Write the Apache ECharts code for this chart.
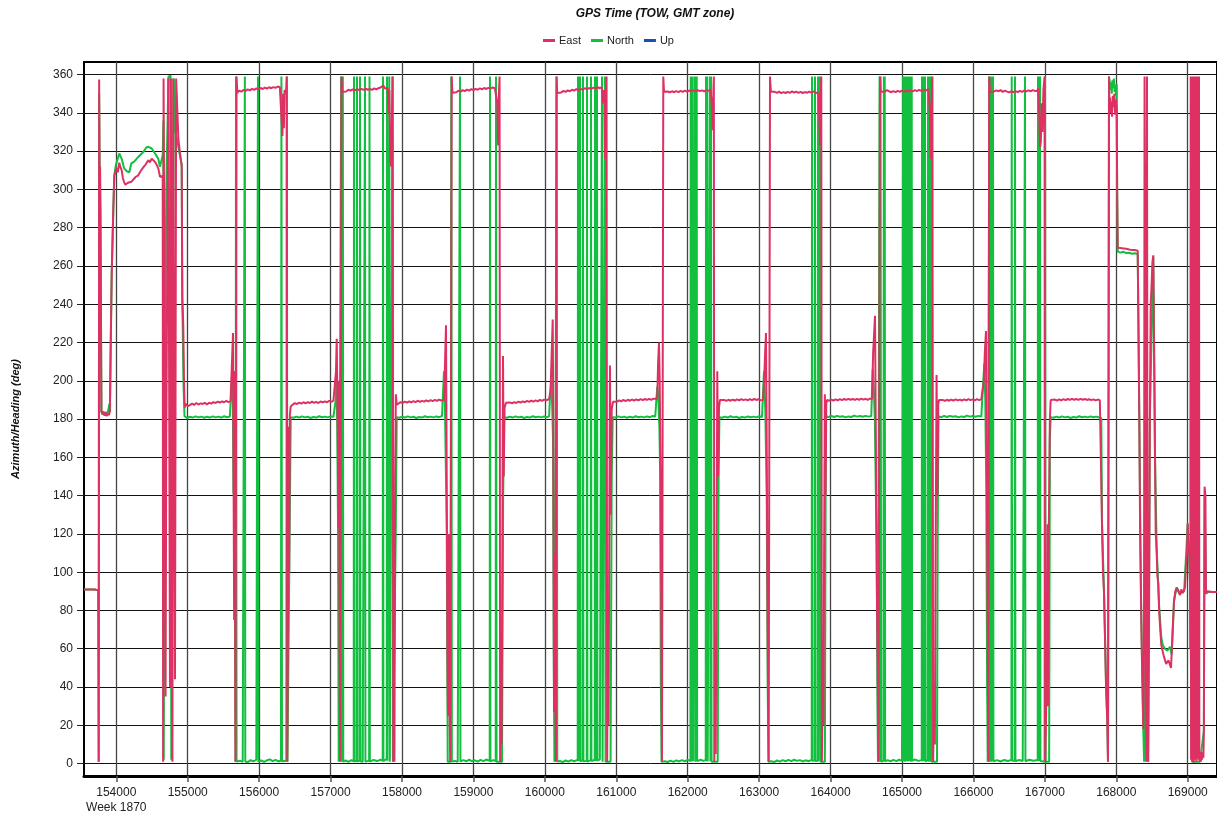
<!DOCTYPE html>
<html><head><meta charset="utf-8">
<script src="https://cdn.jsdelivr.net/npm/echarts@6/dist/echarts.min.js"></script>
<style>html,body{margin:0;padding:0;background:#fff}#c{width:1217px;height:815px}</style>
</head><body><div id="c"></div>
<script>
const xTicks = [154000,155000,156000,157000,158000,159000,160000,161000,162000,163000,164000,165000,166000,167000,168000,169000];
const yTicks = [0,20,40,60,80,100,120,140,160,180,200,220,240,260,280,300,320,340,360];
const xRange = [153548, 169410];
const yRange = [-6.5, 366.6];
const weekLabel = 'Week 1870';
const seriesNames = ['East','North','Up'];

const east = [
[153548,91],[153700,91],[153748,90.5],
[153754,1],[153760,357.5],[153767,300],[153773,312],[153780,287],[153786,230],[153792,184],
[153805,182.5],[153820,184],[153835,181.8],[153850,183.5],[153865,181.5],[153880,183.2],[153895,182],[153910,183.8],
[153922,219],[153936,256],[153958,289],[153972,307],[153990,309.5],[154005,311],[154022,309],[154042,314],[154060,311.5],[154076,310],[154092,306],[154108,304],[154126,302.5],[154146,301.7],[154164,303.5],[154182,302.5],[154210,304],[154238,305],[154270,306.5],[154308,307.4],[154340,309.5],[154378,311.5],[154410,313],[154448,315.3],[154470,314.2],[154496,316],[154526,315],[154556,313.6],[154588,311],[154612,306.6],[154636,306],
[154650,307],[154656,1],[154662,358],[154684,157],[154690,35],[154700,170],[154728,358],[154752,40],[154764,358],[154786,1],[154796,358],[154822,44],[154838,358],[154870,326],[154892,319],[154916,312],[154924,243],[154938,229],[154948,200],[154958,186],[154968,188],
[154985,187.2],[155000,186.8],[155030,187.3],[155060,188.1],[155090,187.4],[155120,188.4],[155150,187.6],[155180,188.2],[155210,187.9],[155240,188.5],[155270,187.6],[155300,188.6],[155330,188.1],[155360,188.9],[155390,188.4],[155420,189.1],[155450,188.6],[155480,189.3],[155510,188.8],[155540,189.5],[155570,188.9],[155600,189.4],[155615,189.0],
[155625,190],[155634,225],[155642,150],[155650,75],[155658,205],[155668,1],[155676,1],[155684,359],[155694,350.5],
[155720,351.6],[155750,351.1],[155780,352.0],[155810,351.5],[155840,352.3],[155870,351.8],[155900,352.6],[155930,352.0],[155960,352.8],[155990,352.3],[156020,353.0],[156050,352.5],[156080,353.2],[156110,352.7],[156140,353.4],[156170,352.9],[156200,353.5],[156230,353.1],[156260,353.8],[156290,353.4],[156310,354.2],
[156318,354],[156326,328],[156336,350],[156346,332],[156356,352],[156376,350],[156386,359],[156394,1],[156402,60],[156412,176],[156420,100],[156430,182],[156442,186.5],
[156470,187.6],[156500,188.3],[156530,187.9],[156560,188.6],[156590,188.1],[156620,188.8],[156650,188.2],[156680,188.9],[156710,188.4],[156740,189.1],[156770,188.5],[156800,189.0],[156830,188.4],[156860,189.2],[156890,188.7],[156920,189.3],[156950,188.8],[156980,189.5],[157010,189.0],[157040,189.6],
[157062,190],[157076,205],[157086,222],[157094,195],[157102,170],[157110,123],[157118,200],[157126,60],[157134,1],[157142,1],[157152,359],[157162,351],
[157190,351.8],[157220,351.2],[157250,352.1],[157280,351.6],[157310,352.3],[157340,351.7],[157370,352.5],[157400,351.9],[157430,352.6],[157460,352.0],[157490,352.7],[157520,352.1],[157550,352.6],[157580,352.0],[157610,352.8],[157640,352.3],[157670,352.9],[157700,353.3],[157720,353.8],[157740,354.3],[157760,352.8],[157785,353.4],
[157800,353],[157812,340],[157822,352],[157836,315],[157850,312],[157860,340],[157870,359],[157878,1],[157886,39],[157894,1],[157904,150],[157914,193],[157926,187.5],
[157950,188.2],[157980,188.9],[158010,188.4],[158040,189.1],[158070,188.6],[158100,189.3],[158130,188.7],[158160,189.4],[158190,188.9],[158220,189.6],[158250,189.0],[158280,189.5],[158310,189.1],[158340,189.8],[158370,189.2],[158400,189.9],[158430,189.4],[158460,190.0],[158490,189.5],[158520,190.2],[158550,189.7],[158575,190.3],
[158590,190],[158604,212],[158616,229],[158626,150],[158636,60],[158644,25],[158654,120],[158664,30],[158676,1],[158686,1],[158696,359],[158706,350.5],
[158730,351.3],[158760,350.8],[158790,351.6],[158820,351.1],[158850,351.9],[158880,351.4],[158910,352.2],[158940,351.6],[158970,352.4],[159000,351.9],[159030,352.6],[159060,352.1],[159090,352.8],[159120,352.3],[159150,353.0],[159180,352.5],[159210,353.1],[159240,352.7],[159270,353.3],[159300,352.9],[159320,353.4],
[159334,345],[159346,323],[159356,350],[159366,359],[159374,1],[159384,40],[159394,10],[159404,99],[159414,213],[159424,150],[159436,186],[159456,188.5],
[159480,188.0],[159510,188.7],[159540,188.2],[159570,188.9],[159600,188.4],[159630,189.1],[159660,188.6],[159690,189.3],[159720,188.8],[159750,189.5],[159780,189.0],[159810,189.7],[159840,189.1],[159870,189.8],[159900,189.3],[159930,190.0],[159960,189.5],[159990,190.2],[160020,189.8],[160045,190.5],
[160060,190.5],[160080,195],[160096,215],[160110,232],[160118,180],[160128,27],[160138,110],[160148,30],[160156,1],[160162,359],[160172,350.4],
[160200,351.2],[160230,350.7],[160260,351.5],[160290,351.0],[160320,351.8],[160350,351.3],[160380,352.1],[160410,351.6],[160440,352.4],[160470,351.9],[160500,352.6],[160530,352.1],[160560,352.9],[160590,352.4],[160620,353.0],[160650,352.5],[160680,353.2],[160710,352.8],[160740,353.4],[160770,352.9],[160800,353.5],
[160814,345],[160830,352],[160842,316],[160854,340],[160864,359],[160872,1],[160882,76],[160892,20],[160902,120],[160912,208],[160922,130],[160936,185],[160954,189],
[160980,189.6],[161010,189.1],[161040,189.8],[161070,189.3],[161100,190.0],[161130,189.4],[161160,190.1],[161190,189.6],[161220,190.2],[161250,189.7],[161280,190.3],[161310,189.8],[161340,190.4],[161370,189.9],[161400,190.5],[161430,190.0],[161460,190.6],[161490,190.1],[161520,190.7],[161545,190.2],
[161560,190.5],[161574,192],[161586,210],[161598,220],[161608,200],[161620,150],[161632,67],[161640,1],[161650,1],[161658,359],[161668,351],
[161690,350.6],[161720,351.2],[161750,350.7],[161780,351.3],[161810,350.8],[161840,351.4],[161870,350.9],[161900,351.5],[161930,351.0],[161960,351.6],[161990,351.1],[162020,351.7],[162050,351.2],[162080,351.8],[162110,351.3],[162140,351.9],[162170,351.4],[162200,351.8],[162230,351.3],[162260,351.9],[162290,351.5],[162310,352.0],
[162320,352],[162336,345],[162350,331],[162360,352],[162366,359],[162372,1],[162382,27],[162392,5],[162404,107],[162414,205],[162426,150],[162438,186],[162452,190],
[162480,189.4],[162510,190.0],[162540,189.5],[162570,190.1],[162600,189.6],[162630,190.2],[162660,189.7],[162690,190.3],[162720,189.8],[162750,190.4],[162780,189.9],[162810,190.3],[162840,189.8],[162870,190.4],[162900,189.9],[162930,190.5],[162960,190.0],[162990,190.4],[163020,189.9],[163040,190.3],
[163054,190],[163070,200],[163084,215],[163096,225],[163106,170],[163116,90],[163124,40],[163134,1],[163144,1],[163152,359],[163164,351],
[163190,350.4],[163220,351.0],[163250,350.5],[163280,351.1],[163310,350.3],[163340,350.9],[163370,350.4],[163400,351.0],[163430,350.5],[163460,351.2],[163490,350.6],[163520,351.1],[163550,350.5],[163580,351.0],[163610,350.4],[163640,350.9],[163670,350.5],[163700,351.1],[163730,350.6],[163760,351.2],[163790,350.7],[163810,351.0],
[163830,350],[163844,335],[163852,323],[163862,350],[163870,359],[163878,1],[163890,40],[163900,20],[163910,113],[163920,193],[163930,140],[163940,188],[163950,190],
[163980,189.6],[164010,190.2],[164040,189.7],[164070,190.3],[164100,189.8],[164130,190.4],[164160,189.9],[164190,190.5],[164220,190.0],[164250,190.6],[164280,190.1],[164310,190.5],[164340,190.0],[164370,190.6],[164400,190.1],[164430,190.7],[164460,190.2],[164490,190.6],[164520,190.1],[164550,190.7],[164570,190.4],
[164580,190.5],[164596,215],[164610,225],[164622,234],[164632,180],[164646,100],[164660,49],[164670,1],[164682,1],[164692,359],[164702,351],
[164730,351.8],[164760,351.2],[164790,351.9],[164820,351.3],[164850,350.8],[164880,351.4],[164910,350.9],[164940,351.5],[164970,351.0],[165000,351.6],[165030,351.1],[165060,351.7],[165090,351.2],[165120,351.8],[165150,351.3],[165180,351.9],[165210,351.4],[165240,352.0],[165270,351.5],[165300,352.1],[165330,351.6],[165350,352.3],
[165370,352.5],[165390,340],[165402,316],[165414,345],[165426,359],[165436,1],[165450,38],[165460,10],[165470,104],[165484,203],[165496,140],[165508,188],[165518,190],
[165540,189.4],[165570,190.0],[165600,189.5],[165630,190.1],[165660,189.6],[165690,190.2],[165720,189.7],[165750,190.3],[165780,189.8],[165810,190.2],[165840,189.7],[165870,190.3],[165900,189.8],[165930,190.4],[165960,189.9],[165990,190.3],[166020,189.8],[166050,190.4],[166080,189.9],[166110,190.3],[166125,189.8],
[166134,189.5],[166146,200],[166160,215],[166176,226],[166186,160],[166200,71],[166208,1],[166214,1],[166220,359],[166232,351],
[166260,351.7],[166290,351.2],[166320,351.8],[166350,351.3],[166380,351.9],[166410,351.0],[166440,351.6],[166470,351.1],[166500,350.7],[166530,351.3],[166560,350.8],[166590,351.4],[166620,350.9],[166650,351.5],[166680,351.0],[166710,351.6],[166740,351.2],[166770,351.8],[166800,351.3],[166830,351.9],[166860,351.5],[166890,351.5],[166910,353],
[166920,340],[166932,322],[166944,325],[166954,345],[166966,330],[166980,352],[166996,359],[167004,1],[167016,22],[167026,60],[167036,125],[167046,30],[167056,125],[167070,180],[167082,190],
[167110,189.6],[167140,190.2],[167170,189.7],[167200,190.3],[167230,189.8],[167260,190.4],[167290,189.9],[167320,190.5],[167350,190.0],[167380,190.6],[167410,190.1],[167440,190.5],[167470,190.0],[167500,190.6],[167530,190.1],[167560,190.5],[167590,190.0],[167620,190.4],[167650,189.9],[167680,190.3],[167710,189.8],[167740,190.2],[167770,189.9],[167790,190],
[167796,189],[167800,125],[167814,100],[167828,89.6],[167840,70],[167856,42],[167866,30],[167874,22.6],[167884,1],[167892,1],[167898,359],[167904,345],[167912,348],[167920,340],[167930,346],[167940,338],[167950,349],[167962,343],[167972,350],[167984,339],[167996,347],[168006,342],[168012,300],
[168020,269.5],[168040,268.8],[168060,269.4],[168080,268.7],[168100,269.2],[168120,268.5],[168140,269.0],[168160,268.2],[168180,268.6],[168200,267.8],[168220,268.3],[168240,267.9],[168260,268.4],[168280,267.6],[168300,268.0],
[168310,230],[168322,181],[168334,120],[168346,87],[168356,60],[168366,42],[168378,18],[168388,60],[168396,359],[168404,265],[168412,150],[168418,1],[168424,200],[168430,359],[168436,121],[168446,1],[168458,70],[168470,180],[168482,240],[168494,250],[168506,262],[168518,265.6],[168526,230],[168534,200],[168542,160],[168552,121],[168566,110],[168576,98],[168588,94],[168600,80],[168612,72],[168630,62],[168650,58.6],[168666,56],[168682,55],[168698,52],[168714,51],[168730,54],[168752,53],[168766,50],[168776,51],[168790,70],[168808,84.6],[168826,90],[168846,92],[168866,90],[168892,88],[168910,91],[168930,89],[168950,90],[168962,92],[168976,104],[168990,110],[169000,125.5],[169010,112],[169024,109],[169032,95],
[169036,60],[169042,359],[169047,2],[169052,358],[169057,5],[169062,359],[169066,1],[169071,357],[169076,3],[169080,359],[169085,0.5],[169090,358],[169095,6],[169100,359],[169104,2],[169109,356],[169114,4],[169118,359],[169123,1],[169128,358],[169133,3],[169138,359],[169143,8],[169148,357],[169153,2],[169158,359],[169163,5],[169168,1],[169176,4],[169184,1],[169192,6],[169200,2],[169210,5],[169220,3],
[169226,17],[169236,144.7],[169248,140],[169256,88.6],[169270,90],[169288,89.6],[169350,89.6],[169410,89.6]
];

const north = [
[153548,91],[153700,91],[153748,90.5],[153754,1],[153760,350],[153767,312],[153775,290],[153786,230],[153792,184],[153805,182.5],[153850,183.5],[153880,183.2],[153905,188],[153912,183.8],
[153922,219],[153936,256],[153958,289],[153972,307.4],[153994,312.7],[154042,318.8],[154076,316],[154110,311],[154146,309.5],[154182,309],[154210,313.6],[154250,314.5],[154308,317],[154378,319.6],[154420,321.9],[154450,322.3],[154496,321.4],[154524,320.5],[154556,318],[154588,316],[154612,311.8],[154636,312],
[154650,318],[154660,336],[154664,2],[154676,180],[154700,300],[154730,359],[154760,359.5],[154770,2],[154790,1],[154806,358],[154830,330],[154860,324],[154890,318],[154916,313],[154924,245],[154940,200],[154955,181.5],[154970,181.2],
[154990,180.6],[155030,181.2],[155070,180.8],[155110,181.4],[155150,180.9],[155190,181.3],[155230,180.7],[155270,181.2],[155310,180.8],[155350,181.4],[155390,180.9],[155430,181.3],[155470,180.8],[155510,181.5],[155550,181.0],[155590,181.4],[155615,181.0],
[155630,207],[155640,141],[155650,181],[155660,100],[155670,1],[155676,359],[155684,1],[155694,0.8],
[155730,1.5],[155770,0.9],[155795,1.6],[155800,359],[155806,1.2],[155840,0.7],[155880,1.8],[155920,1.1],[155960,2.0],[155980,1.4],[155984,359],[155990,1.0],[156030,1.6],[156070,0.9],[156110,1.7],[156150,2.2],[156190,1.3],[156230,1.9],[156270,1.1],[156305,1.6],[156312,359],[156320,1.2],
[156380,1.5],[156388,359],[156396,1],[156420,1],[156432,140],[156442,181],
[156480,180.7],[156520,181.3],[156560,180.8],[156600,181.4],[156640,180.9],[156680,181.2],[156720,180.6],[156760,181.1],[156800,180.8],[156840,181.5],[156880,181.0],[156920,181.3],[156960,180.9],[157000,181.4],[157040,181.2],
[157062,182],[157072,190],[157080,205],[157092,180],[157104,125],[157114,1],[157140,1],[157148,359],[157156,1],
[157168,1.2],[157172,359],[157178,1.0],[157210,1.6],[157250,0.9],[157290,1.8],[157324,1.2],[157328,359],[157334,1.1],[157366,1.5],[157370,359],[157376,1.0],[157408,1.7],[157412,359],[157418,1.2],[157450,0.9],[157478,1.6],[157482,359],[157488,1.1],[157540,1.4],[157545,359],[157550,1.0],[157600,1.9],[157650,1.3],[157700,2.0],[157730,1.4],[157734,359],[157740,1.2],[157786,2.5],[157790,359],[157796,1.5],[157822,359],[157830,1],[157850,1.5],[157866,359],[157874,1],
[157900,1],[157912,120],[157926,181],
[157960,180.7],[158000,181.3],[158040,180.8],[158080,181.4],[158120,180.9],[158160,181.2],[158200,180.6],[158240,181.1],[158280,180.8],[158320,181.5],[158360,181.0],[158400,181.3],[158440,180.9],[158480,181.4],[158520,181.0],[158560,181.6],[158578,182],
[158588,205],[158600,190],[158612,160],[158626,123],[158640,1],[158680,1],[158690,359],[158698,1],
[158740,1.4],[158780,0.9],[158808,1.6],[158812,359],[158818,1.1],[158860,1.8],[158900,1.2],[158940,2.0],[158980,1.3],[159020,1.7],[159060,1.0],[159100,1.9],[159140,1.3],[159180,2.1],[159228,1.4],[159232,359],[159238,1.2],[159280,1.8],[159312,1.3],[159316,359],[159324,1],
[159400,1],[159416,140],[159430,181],
[159470,180.7],[159510,181.3],[159550,180.8],[159590,181.4],[159630,180.9],[159670,181.2],[159710,180.6],[159750,181.1],[159790,180.8],[159830,181.5],[159870,181.0],[159910,181.3],[159950,180.9],[159990,181.4],[160030,181.0],[160060,181.5],
[160072,192],[160090,200],[160104,185],[160114,170],[160124,60],[160134,1],[160158,1],[160166,359],[160174,1],
[160210,1.3],[160250,0.8],[160290,1.6],[160330,1.0],[160370,1.8],[160410,1.2],[160460,1.9],[160464,359],[160470,1.3],[160488,1.5],[160492,359],[160498,1.1],[160530,1.7],[160534,359],[160540,1.2],[160586,1.4],[160590,359],[160596,1.0],[160642,1.8],[160646,359],[160652,1.3],[160698,2.0],[160702,359],[160708,1.4],[160726,1.6],[160730,359],[160736,1.5],[160770,2.2],[160796,1.8],[160800,359],[160808,1],[160834,1],[160842,359],[160850,1],
[160920,1],[160936,150],[160950,181],
[160990,180.8],[161030,181.4],[161070,180.9],[161110,181.3],[161150,180.7],[161190,181.2],[161230,180.8],[161270,181.5],[161310,181.0],[161350,181.3],[161390,180.9],[161430,181.4],[161470,181.0],[161510,181.6],[161545,181.2],[161560,181.5],
[161574,197],[161590,190],[161604,175],[161614,152],[161624,40],[161634,1],
[161680,1.2],[161720,0.8],[161760,1.5],[161800,0.9],[161840,1.7],[161880,1.1],[161920,1.8],[161960,1.2],[162000,1.9],[162038,1.3],[162042,359],[162048,1.1],[162066,1.5],[162070,359],[162076,1.2],[162098,1.6],[162102,359],[162108,1.0],[162122,1.4],[162126,359],[162132,1.3],[162180,2.0],[162220,1.4],[162252,1.8],[162256,359],[162262,1.2],[162270,1.5],[162274,359],[162280,1.1],[162308,1.6],[162312,359],[162318,1.2],[162326,359],[162334,1],
[162420,1],[162432,150],[162444,181],
[162480,180.7],[162520,181.3],[162560,180.8],[162600,181.5],[162640,180.9],[162680,181.2],[162720,180.6],[162760,181.1],[162800,180.8],[162840,181.4],[162880,181.0],[162920,181.3],[162960,180.9],[163000,181.5],[163040,181.1],[163054,181],
[163068,205],[163086,185],[163106,140],[163120,40],[163130,1],
[163170,1.2],[163210,0.8],[163250,1.6],[163290,1.0],[163330,1.8],[163370,1.2],[163410,1.9],[163450,1.3],[163490,2.0],[163530,1.4],[163570,1.8],[163610,1.1],[163650,1.7],[163690,1.2],[163736,1.9],[163740,359],[163746,1.4],[163778,1.6],[163782,359],[163788,1.3],[163820,1.5],[163824,359],[163830,1.2],[163846,1.5],[163852,359],[163860,1],
[163920,1],[163934,181.6],
[163970,181.0],[164010,181.6],[164050,181.1],[164090,181.7],[164130,181.2],[164170,181.5],[164210,180.9],[164250,181.4],[164290,181.1],[164330,181.8],[164370,181.3],[164410,181.6],[164450,181.2],[164490,181.7],[164530,181.3],[164570,181.6],[164580,181.5],
[164590,206],[164606,195],[164620,180],[164634,140],[164646,114],[164656,30],[164664,1],[164680,1],[164686,359],[164694,1],[164700,359],[164708,1],
[164740,1.3],[164746,359],[164752,1.1],[164758,359],[164764,1.2],[164800,1.8],[164840,1.1],[164880,1.9],[164920,1.3],[164960,2.0],[165000,1.4],[165012,1.6],
[165016,359],[165021,1.2],[165026,359],[165031,1.5],[165036,359],[165041,1.0],[165046,359],[165051,1.8],[165056,359],[165061,1.3],[165066,359],[165071,2.0],[165076,359],[165081,1.1],[165086,359],[165091,1.6],[165096,359],[165101,1.2],[165106,359],[165111,1.9],[165116,359],[165121,1.4],[165126,359],[165131,1.0],[165136,359],[165141,1.5],
[165180,2.1],[165230,1.4],[165276,1.8],[165280,359],[165286,1.2],[165300,1.5],[165304,359],[165310,1.3],[165318,1.6],[165322,359],[165328,1.1],[165360,1.9],[165364,359],[165372,1],[165382,359],[165390,1],[165410,359],[165418,1],
[165490,1],[165500,120],[165510,181.5],
[165550,181.0],[165590,181.6],[165630,181.1],[165670,181.7],[165710,181.2],[165750,181.5],[165790,180.9],[165830,181.4],[165870,181.1],[165910,181.8],[165950,181.3],[165990,181.6],[166030,181.2],[166070,181.7],[166110,181.3],[166134,181.5],
[166152,209],[166166,190],[166180,143],[166192,40],[166200,1],[166214,1],[166222,359],[166228,1],[166236,359],[166244,1],
[166254,1.3],[166258,359],[166264,1.1],[166270,1.5],[166274,359],[166280,1.2],[166330,1.8],[166380,1.1],[166430,1.9],[166480,1.3],[166532,2.0],[166536,359],[166542,1.4],[166578,1.6],[166582,359],[166588,1.2],[166640,1.9],[166690,1.3],[166718,1.7],[166722,359],[166728,1.2],[166780,2.0],[166840,1.5],[166900,1.9],[166904,359],[166910,1.4],[166928,1.6],[166932,359],[166938,1.3],[166996,1],[167002,359],[167010,1],
[167060,1],[167070,170],[167082,181],
[167120,180.7],[167160,181.3],[167200,180.8],[167240,181.4],[167280,180.9],[167320,181.2],[167360,180.6],[167400,181.1],[167440,180.8],[167480,181.5],[167520,181.0],[167560,181.3],[167600,180.9],[167640,181.4],[167680,181.0],[167720,181.3],[167760,180.8],[167790,180.6],
[167800,126],[167828,90],[167856,42],[167874,23],[167884,1],[167892,1],[167898,359],[167906,357],[167916,352],[167926,356],[167936,350],[167946,357],[167956,353],[167966,358],[167976,351],[167986,355],[167996,349],[168006,355],[168012,300],
[168020,267.5],[168060,267.0],[168100,267.4],[168140,266.8],[168180,266.9],[168220,266.4],[168260,266.7],[168300,266.2],
[168310,230],[168322,181],[168346,87],[168378,18],[168390,1],[168404,1],[168418,1],[168430,132],[168446,1],[168470,180],[168518,265],[168542,160],[168566,112],[168600,82],[168630,66],[168650,62],[168682,60],[168714,59],[168752,61],[168776,57],[168808,85],[168846,92],[168892,89],[168950,90],[169000,125],[169032,95],[169060,1],[169100,1],[169172,1],[169226,17],[169236,140],[169256,89],[169288,89.6],[169410,89.6]
];

const up = [];

const FONT = 'Liberation Sans, Arial, sans-serif';
const chart = echarts.init(document.getElementById('c'), null, {renderer: 'canvas'});
chart.setOption({
  animation: false,
  backgroundColor: '#fff',
  title: {
    text: 'GPS Time (TOW, GMT zone)',
    left: 650, top: 3, textAlign: 'center',
    textStyle: {fontFamily: FONT, fontSize: 12, fontWeight: 'bold', fontStyle: 'italic', color: '#111'}
  },
  legend: {
    data: seriesNames,
    top: 30, left: 'center',
    icon: 'rect', itemWidth: 12, itemHeight: 3, itemGap: 10,
    textStyle: {fontFamily: FONT, fontSize: 11, color: '#222', padding: [0,0,0,-1]}
  },
  grid: {left: 84, right: 0, top: 62, bottom: 38, show: true, borderColor: '#000', borderWidth: 2, backgroundColor: 'transparent'},
  xAxis: {
    type: 'value', min: xRange[0], max: xRange[1],
    axisLine: {show: true, onZero: false, lineStyle: {color: '#000', width: 3}},
    axisTick: {show: true, customValues: xTicks, length: 6, lineStyle: {color: '#555', width: 1.5}},
    axisLabel: {customValues: xTicks, margin: 9, fontFamily: FONT, fontSize: 12, color: '#222', lineHeight: 15,
      formatter: v => v === xTicks[0] ? v + '\n' + weekLabel : String(v)},
    splitLine: {show: true, lineStyle: {color: '#444', width: 1.3}}
  },
  yAxis: {
    type: 'value', min: yRange[0], max: yRange[1],
    name: 'Azimuth/Heading (deg)', nameLocation: 'middle', nameGap: 63, nameRotate: 90,
    nameTextStyle: {fontFamily: FONT, fontSize: 11, fontWeight: 'bold', fontStyle: 'italic', color: '#111'},
    axisLine: {show: true, onZero: false, lineStyle: {color: '#000', width: 2}},
    axisTick: {show: true, customValues: yTicks, length: 7, lineStyle: {color: '#222', width: 1}},
    axisLabel: {customValues: yTicks, margin: 11, fontFamily: FONT, fontSize: 12, color: '#222'},
    splitLine: {show: true, lineStyle: {color: '#111', width: 1}}
  },
  series: [
    {name: 'East', type: 'line', data: east, showSymbol: false, symbol: 'none', z: 4,
     color: '#DE3163', lineStyle: {width: 2, color: '#DE3163'}},
    {name: 'North', type: 'line', data: north, showSymbol: false, symbol: 'none', z: 3,
     color: '#12BF3F', lineStyle: {width: 2, color: '#12BF3F'}},
    {name: 'Up', type: 'line', data: up, showSymbol: false, symbol: 'none', z: 2,
     color: '#1450B8', lineStyle: {width: 2, color: '#1450B8'}}
  ]
});
</script>
</body></html>
